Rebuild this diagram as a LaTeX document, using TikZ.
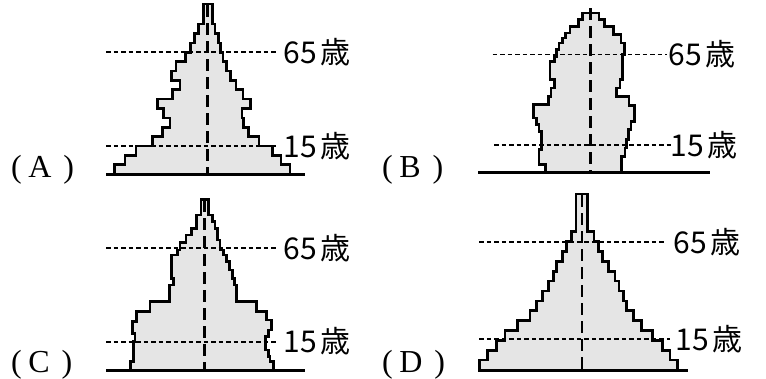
\documentclass[tikz,border=0pt]{standalone}
\usepackage{fontspec}
\setmainfont{Liberation Serif}
\newfontfamily\cjk{Noto Sans CJK JP}
\tikzset{
  pyr/.style={draw=black, line width=2.6pt, fill=black!10, line join=miter},
  baseln/.style={line width=3.2pt},
  ageln/.style={line width=1.9pt, dash pattern=on 4.5pt off 3pt},
  midln/.style={line width=2.6pt, dash pattern=on 12pt off 6pt},
  agelabel/.style={font=\cjk\fontsize{30}{30}\selectfont, anchor=base west, inner sep=0pt},
  panel/.style={font=\fontsize{32}{32}\selectfont, anchor=base west, inner sep=0pt}
}
\newcommand{\agetxt}[1]{#1\hspace{4pt}歳}
\begin{document}
\begin{tikzpicture}[x=1pt,y=-1pt]
\useasboundingbox (0,0) rectangle (766,378);
% ---------------- (A) ----------------
\draw[pyr] (114.3,174) -- (114.3,164.6) -- (125,164.6) -- (125,155.3) -- (136,155.3) -- (136,145.9)
 -- (152.3,145.9) -- (152.3,136.5) -- (162.3,136.5) -- (162.3,127.2) -- (170,127.2) -- (170,117.8)
 -- (163.3,117.8) -- (163.3,108.4) -- (157.3,108.4) -- (157.3,99) -- (172.7,99) -- (172.7,89.7)
 -- (180,89.7) -- (180,80.3) -- (171.7,80.3) -- (171.7,70.9) -- (176,70.9) -- (176,61.6)
 -- (185.7,61.6) -- (185.7,52.2) -- (190.7,52.2) -- (190.7,42.8) -- (194.3,42.8) -- (194.3,33.5)
 -- (198.3,33.5) -- (198.3,24.1) -- (203.3,24.1) -- (203.3,4) -- (212.3,4) -- (212.3,24.1)
 -- (215,24.1) -- (215,33.5) -- (218.3,33.5) -- (218.3,42.8) -- (220.5,42.8) -- (220.5,52.2)
 -- (223,52.2) -- (223,61.6) -- (226.7,61.6) -- (226.7,70.9) -- (230.7,70.9) -- (230.7,80.3)
 -- (236,80.3) -- (236,89.7) -- (243,89.7) -- (243,99) -- (250.7,99) -- (250.7,108.4)
 -- (242,108.4) -- (242,117.8) -- (243.3,117.8) -- (243.3,127.2) -- (248.3,127.2) -- (248.3,136.5)
 -- (259,136.5) -- (259,145.9) -- (272.7,145.9) -- (272.7,155.3) -- (281,155.3) -- (281,164.6)
 -- (290,164.6) -- (290,174) -- cycle;
\coordinate (a65w) at (106,52.3);  \coordinate (a65e) at (278,52.3);
\coordinate (a15w) at (106,146);   \coordinate (a15e) at (278,146);
\coordinate (atop) at (207.5,5);   \coordinate (abot) at (207.5,174);
\coordinate (abl) at (106,174.5);  \coordinate (abr) at (305,174.5);
\draw[ageln] (a65w) -- (a65e);
\draw[ageln] (a15w) -- (a15e);
\draw[midln] (atop) -- (abot);
\draw[baseln] (abl) -- (abr);
\node[agelabel] (a65) at (283.5,63.3) {\agetxt{65}};
\node[agelabel] (a15) at (283.5,157) {\agetxt{15}};
\node[panel] (labA) at (11,177) {(\hspace{6.5pt}A\hspace{12pt})};
% ---------------- (B) ----------------
\draw[pyr] (545.7,172.5) -- (545.7,164.7) -- (539,164.7) -- (539,149.7) -- (541.7,149.7) -- (541.7,131.3)
 -- (539,131.3) -- (539,124.7) -- (536.7,124.7) -- (536.7,118) -- (533.3,118) -- (533.3,104.7)
 -- (548.3,104.7) -- (548.3,96.3) -- (551,96.3) -- (551,88) -- (554.3,88) -- (554.3,79.7)
 -- (550,79.7) -- (550,61.3) -- (554.3,61.3) -- (554.3,56.3) -- (556.7,56.3) -- (556.7,49.7)
 -- (559,49.7) -- (559,43) -- (562.3,43) -- (562.3,38) -- (565.7,38) -- (565.7,33)
 -- (570,33) -- (570,26.3) -- (578.3,26.3) -- (578.3,19.7) -- (582.3,19.7) -- (582.3,13)
 -- (599,13) -- (599,19.7) -- (604.3,19.7) -- (604.3,26.3) -- (613.3,26.3) -- (613.3,34.7)
 -- (621,34.7) -- (621,43) -- (624.3,43) -- (624.3,54.7) -- (622.3,54.7) -- (622.3,79.7)
 -- (620,79.7) -- (620,88) -- (616.7,88) -- (616.7,96.3) -- (629,96.3) -- (629,105.3)
 -- (634.3,105.3) -- (634.3,121.3) -- (631,121.3) -- (631,129.7) -- (628.3,129.7) -- (628.3,139.7)
 -- (626.7,139.7) -- (626.7,148) -- (625,148) -- (625,156.3) -- (621.7,156.3) -- (621.7,172.5) -- cycle;
\coordinate (b65w) at (492.7,54.5); \coordinate (b65e) at (666.7,54.5);
\coordinate (b15w) at (494,145);    \coordinate (b15e) at (671.7,145);
\coordinate (btop) at (590.5,8);    \coordinate (bbot) at (590.5,172.5);
\coordinate (bbl) at (478.3,172.7); \coordinate (bbr) at (710,172.7);
\draw[ageln] (b65w) -- (b65e);
\draw[ageln] (b15w) -- (b15e);
\draw[midln] (btop) -- (bbot);
\draw[baseln] (bbl) -- (bbr);
\node[agelabel] (b65) at (668.5,65.5) {\agetxt{65}};
\node[agelabel] (b15) at (670.5,156) {\agetxt{15}};
\node[panel] (labB) at (382,177) {(\hspace{6.5pt}B\hspace{12pt})};
% ---------------- (C) ----------------
\draw[pyr] (130.7,370) -- (130.7,361.7) -- (133.3,361.7) -- (133.3,341.7) -- (135,341.7) -- (135,333.3)
 -- (132.7,333.3) -- (132.7,321.7) -- (136.7,321.7) -- (136.7,311.7) -- (150,311.7) -- (150,301.7)
 -- (169.3,301.7) -- (169.3,285) -- (173.3,285) -- (173.3,278.3) -- (171.7,278.3) -- (171.7,255)
 -- (177.3,255) -- (177.3,250) -- (180,250) -- (180,242.7) -- (186,242.7) -- (186,235)
 -- (191.7,235) -- (191.7,228.3) -- (196.7,228.3) -- (196.7,215) -- (201,215) -- (201,199.3)
 -- (208.3,199.3) -- (208.3,215) -- (212.7,215) -- (212.7,221.7) -- (215,221.7) -- (215,228.3)
 -- (217.3,228.3) -- (217.3,240) -- (220,240) -- (220,250) -- (223.3,250) -- (223.3,255)
 -- (226.7,255) -- (226.7,261.7) -- (229.3,261.7) -- (229.3,270) -- (232.7,270) -- (232.7,278.3)
 -- (234.3,278.3) -- (234.3,285) -- (236.7,285) -- (236.7,301.7) -- (256.7,301.7) -- (256.7,311.7)
 -- (266.7,311.7) -- (266.7,320) -- (271.7,320) -- (271.7,330) -- (268.3,330) -- (268.3,336.7)
 -- (265.7,336.7) -- (265.7,350) -- (268.3,350) -- (268.3,356.7) -- (270,356.7) -- (270,361.7)
 -- (273.3,361.7) -- (273.3,370) -- cycle;
\coordinate (c65w) at (106,248.3); \coordinate (c65e) at (278.3,248.3);
\coordinate (c15w) at (106,341.7); \coordinate (c15e) at (278.3,341.7);
\coordinate (ctop) at (204.5,200); \coordinate (cbot) at (204.5,370);
\coordinate (cbl) at (106,370.5);  \coordinate (cbr) at (305,370.5);
\draw[ageln] (c65w) -- (c65e);
\draw[ageln] (c15w) -- (c15e);
\draw[midln] (ctop) -- (cbot);
\draw[baseln] (cbl) -- (cbr);
\node[agelabel] (c65) at (283.5,259.3) {\agetxt{65}};
\node[agelabel] (c15) at (283.5,352.7) {\agetxt{15}};
\node[panel] (labC) at (11,372.5) {(\hspace{6.5pt}C\hspace{12pt})};
% ---------------- (D) ----------------
\draw[pyr] (479.3,370) -- (479.3,360.1) -- (487.3,360.1) -- (487.3,350.2) -- (496.7,350.2) -- (496.7,340.4)
 -- (505,340.4) -- (505,330.5) -- (517.3,330.5) -- (517.3,320.6) -- (530,320.6) -- (530,310.7)
 -- (536.7,310.7) -- (536.7,300.8) -- (542.7,300.8) -- (542.7,291) -- (548.3,291) -- (548.3,281.1)
 -- (553.3,281.1) -- (553.3,271.2) -- (556.7,271.2) -- (556.7,261.3) -- (562.7,261.3) -- (562.7,251.4)
 -- (566.7,251.4) -- (566.7,241.6) -- (571.7,241.6) -- (571.7,231.7) -- (576,231.7) -- (576,194)
 -- (587.3,194) -- (587.3,231.7) -- (594,231.7) -- (594,241.6) -- (598.3,241.6) -- (598.3,251.4)
 -- (602.7,251.4) -- (602.7,261.3) -- (608.3,261.3) -- (608.3,271.2) -- (615,271.2) -- (615,281.1)
 -- (619,281.1) -- (619,291) -- (623.3,291) -- (623.3,300.8) -- (626.7,300.8) -- (626.7,310.7)
 -- (633.3,310.7) -- (633.3,320.6) -- (641.7,320.6) -- (641.7,330.5) -- (652.7,330.5) -- (652.7,340.4)
 -- (662.7,340.4) -- (662.7,350.2) -- (670,350.2) -- (670,360.1) -- (677.3,360.1) -- (677.3,370) -- cycle;
\coordinate (d65w) at (479.3,241.7); \coordinate (d65e) at (666.7,241.7);
\coordinate (d15w) at (479.3,339.3); \coordinate (d15e) at (670,339.3);
\coordinate (dtop) at (582,195);     \coordinate (dbot) at (582,370);
\coordinate (dbl) at (478.3,370.5);  \coordinate (dbr) at (688.3,370.5);
\draw[ageln] (d65w) -- (d65e);
\draw[ageln] (d15w) -- (d15e);
\draw[midln] (dtop) -- (dbot);
\draw[baseln] (dbl) -- (dbr);
\node[agelabel] (d65) at (673.5,253) {\agetxt{65}};
\node[agelabel] (d15) at (675.5,350.6) {\agetxt{15}};
\node[panel] (labD) at (382,372.5) {(\hspace{6.5pt}D\hspace{12pt})};
\end{tikzpicture}
\end{document}
